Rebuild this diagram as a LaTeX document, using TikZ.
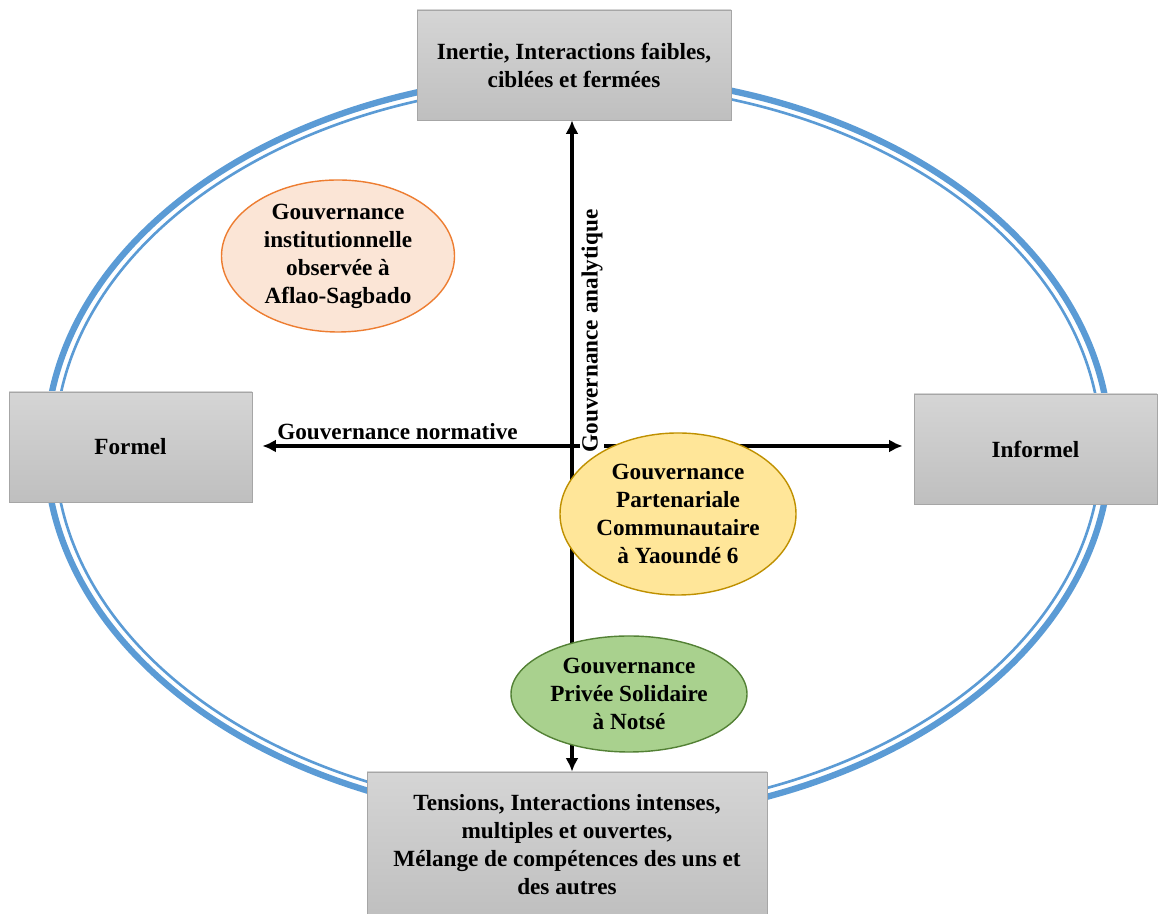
\documentclass[tikz,border=0pt]{standalone}
\usepackage{fontspec}
\setmainfont{Liberation Serif}
\usetikzlibrary{shapes.geometric,arrows.meta}
\definecolor{ringblue}{HTML}{5B9BD5}
\definecolor{boxtop}{HTML}{D5D5D5}
\definecolor{boxbot}{HTML}{BFBFBF}
\definecolor{boxline}{HTML}{A6A6A6}
\definecolor{orfill}{HTML}{FBE5D6}
\definecolor{ordraw}{HTML}{ED7D31}
\definecolor{yefill}{HTML}{FFE699}
\definecolor{yedraw}{HTML}{BF9000}
\definecolor{grfill}{HTML}{A9D18E}
\definecolor{grdraw}{HTML}{538135}
\begin{document}
\begin{tikzpicture}[
  txt/.style={font=\bfseries\fontsize{13.2}{15.9}\selectfont, align=center},
  box/.style={txt, draw=boxline, top color=boxtop, bottom color=boxbot, inner sep=0pt},
  blob/.style={txt, ellipse, inner sep=0pt, line width=0.8pt},
  axis/.style={line width=2.1pt, {Latex[length=0.27cm,width=0.26cm]}-{Latex[length=0.27cm,width=0.26cm]}}
]
  \useasboundingbox (0,0) rectangle (23.18,18.28);
  \draw[ringblue, line width=3.6pt] (11.56,9.32) ellipse (10.64 and 7.46);
  \draw[ringblue, line width=1.5pt] (11.56,9.32) ellipse (10.46 and 7.29);
  \node[box, minimum width=6.28cm, minimum height=2.2cm] (inertie) at (11.48,16.98) {Inertie, Interactions faibles,\\ciblées et fermées};
  \node[box, minimum width=4.86cm, minimum height=2.2cm] (formel) at (2.61,9.34) {Formel};
  \node[box, minimum width=4.86cm, minimum height=2.2cm] (informel) at (20.71,9.30) {Informel};
  \node[box, minimum width=8.0cm, minimum height=2.92cm] (tensions) at (11.34,1.38) {Tensions, Interactions intenses,\\multiples et ouvertes,\\Mélange de compétences des uns et\\des autres};
  \coordinate (cross) at (11.44,9.36);
  \draw[axis] (inertie.south -| cross) -- (tensions.north -| cross);
  \draw[axis, shorten <=0.2cm, shorten >=0.22cm] (formel.east |- cross) -- (informel.west |- cross);
  \node[txt] (normative) at (7.95,9.64) {Gouvernance normative};
  \node[txt, rotate=90, fill=white, inner sep=1pt] (analytique) at (11.84,11.66) {Gouvernance analytique};
  \node[blob, draw=ordraw, fill=orfill, minimum width=4.66cm, minimum height=3.04cm] (aflao) at (6.76,13.16) {Gouvernance\\institutionnelle\\observée à\\Aflao-Sagbado};
  \node[blob, draw=yedraw, fill=yefill, minimum width=4.72cm, minimum height=3.24cm] (yaounde) at (13.56,8.0) {Gouvernance\\Partenariale\\Communautaire\\à Yaoundé 6};
  \node[blob, draw=grdraw, fill=grfill, minimum width=4.72cm, minimum height=2.32cm] (notse) at (12.58,4.4) {Gouvernance\\Privée Solidaire\\à Notsé};
\end{tikzpicture}
\end{document}
